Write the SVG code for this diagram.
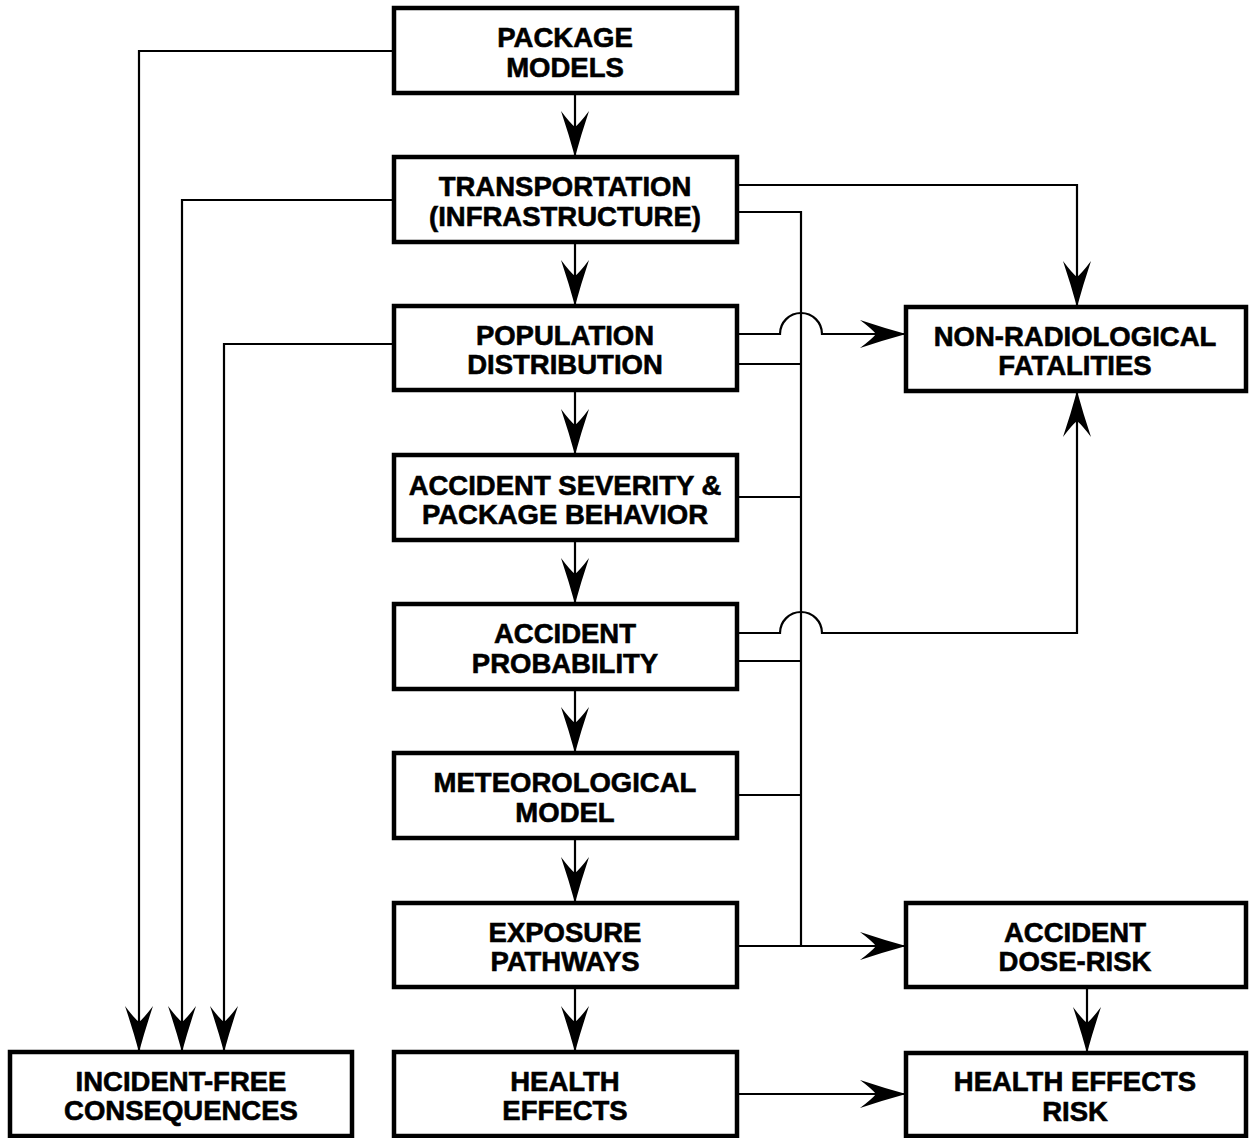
<svg xmlns="http://www.w3.org/2000/svg" width="1249" height="1138" viewBox="0 0 1249 1138">
<style>
.box{fill:#fff;stroke:#000;stroke-width:4.5}
.t{font-family:"Liberation Sans",Arial,Helvetica,sans-serif;font-weight:bold;font-size:27.5px;text-anchor:middle;fill:#000;stroke:#000;stroke-width:0.6}
.c{fill:none;stroke:#000;stroke-width:2.2}
.a{marker-end:url(#arr)}
</style>
<defs>
<marker id="arr" markerUnits="userSpaceOnUse" viewBox="-48 -16 50 32" refX="0" refY="0" markerWidth="50" markerHeight="32" orient="auto">
<path d="M0,0 Q-22,-6 -46,-14 Q-34,-5 -30,0 Q-34,5 -46,14 Q-22,6 0,0 Z" fill="#000"/>
</marker>
</defs>
<rect width="1249" height="1138" fill="#fff"/>
<g id="connectors">
<path class="c a" d="M394,51 H139 V1052"/>
<path class="c a" d="M394,200 H182 V1052"/>
<path class="c a" d="M394,344 H224 V1052"/>
<path class="c a" d="M575,93 V157"/>
<path class="c a" d="M575,242 V306"/>
<path class="c a" d="M575,390 V455"/>
<path class="c a" d="M575,540 V604"/>
<path class="c a" d="M575,689 V753"/>
<path class="c a" d="M575,838 V903"/>
<path class="c a" d="M575,987 V1052"/>
<path class="c a" d="M737,185 H1077 V307"/>
<path class="c" d="M737,212 H801 V946"/>
<path class="c a" d="M737,334 H780 A21,21 0 0 1 822,334 H906"/>
<path class="c" d="M737,364 H801"/>
<path class="c" d="M737,497 H801"/>
<path class="c a" d="M737,633 H780 A21,21 0 0 1 822,633 H1077 V391"/>
<path class="c" d="M737,661 H801"/>
<path class="c" d="M737,795 H801"/>
<path class="c a" d="M737,946 H906"/>
<path class="c a" d="M1087,987 V1053"/>
<path class="c a" d="M737,1094 H906"/>
</g>
<g id="package-models"><rect class="box" x="394" y="8" width="343" height="85"/><text class="t" x="565" y="47">PACKAGE</text><text class="t" x="565" y="76.5">MODELS</text></g>
<g id="transportation"><rect class="box" x="394" y="157" width="343" height="85"/><text class="t" x="565" y="196">TRANSPORTATION</text><text class="t" x="565" y="225.5">(INFRASTRUCTURE)</text></g>
<g id="population"><rect class="box" x="394" y="306" width="343" height="84"/><text class="t" x="565" y="344.5">POPULATION</text><text class="t" x="565" y="374">DISTRIBUTION</text></g>
<g id="accident-severity"><rect class="box" x="394" y="455" width="343" height="85"/><text class="t" x="565" y="494.5">ACCIDENT SEVERITY &amp;</text><text class="t" x="565" y="524">PACKAGE BEHAVIOR</text></g>
<g id="accident-probability"><rect class="box" x="394" y="604" width="343" height="85"/><text class="t" x="565" y="643">ACCIDENT</text><text class="t" x="565" y="672.5">PROBABILITY</text></g>
<g id="meteorological"><rect class="box" x="394" y="753" width="343" height="85"/><text class="t" x="565" y="792">METEOROLOGICAL</text><text class="t" x="565" y="821.5">MODEL</text></g>
<g id="exposure"><rect class="box" x="394" y="903" width="343" height="84"/><text class="t" x="565" y="941.5">EXPOSURE</text><text class="t" x="565" y="971">PATHWAYS</text></g>
<g id="health-effects"><rect class="box" x="394" y="1052" width="343" height="84"/><text class="t" x="565" y="1090.5">HEALTH</text><text class="t" x="565" y="1120">EFFECTS</text></g>
<g id="incident-free"><rect class="box" x="10" y="1052" width="342" height="84"/><text class="t" x="181" y="1090.5">INCIDENT-FREE</text><text class="t" x="181" y="1120">CONSEQUENCES</text></g>
<g id="non-radiological"><rect class="box" x="906" y="307" width="340" height="84"/><text class="t" x="1075" y="345.5">NON-RADIOLOGICAL</text><text class="t" x="1075" y="375">FATALITIES</text></g>
<g id="dose-risk"><rect class="box" x="906" y="903" width="340" height="84"/><text class="t" x="1075" y="941.5">ACCIDENT</text><text class="t" x="1075" y="971">DOSE-RISK</text></g>
<g id="health-effects-risk"><rect class="box" x="906" y="1053" width="340" height="83"/><text class="t" x="1075" y="1091">HEALTH EFFECTS</text><text class="t" x="1075" y="1120.5">RISK</text></g>
</svg>
